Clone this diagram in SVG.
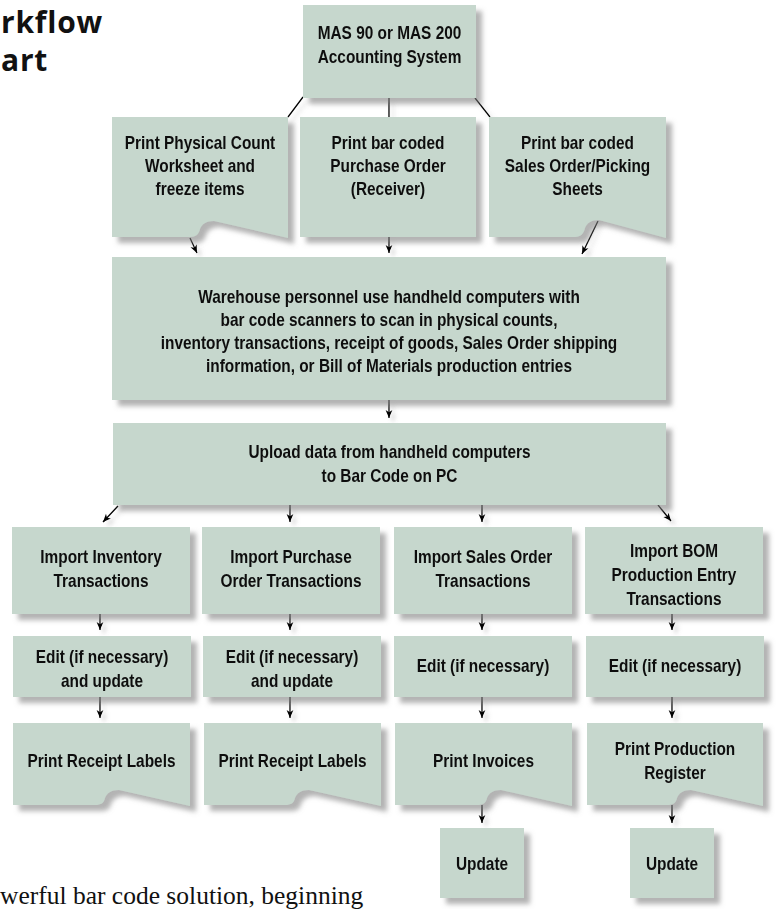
<svg xmlns="http://www.w3.org/2000/svg" width="776" height="909" viewBox="0 0 776 909">
<style>
.box{fill:#c6d7cd;}
.t{font-family:"Liberation Sans",Arial,sans-serif;font-size:17.5px;font-weight:bold;fill:#111;text-anchor:middle;}
.title{font-family:"Open Sans","Liberation Sans",sans-serif;font-size:30px;font-weight:bold;fill:#111;letter-spacing:0.8px;}
.body{font-family:"Liberation Serif","Times New Roman",serif;font-size:25.5px;fill:#111;}
.c{stroke:#000;stroke-width:1.3;fill:none;}
.a{marker-end:url(#ah);}
</style>
<defs>
<filter id="sh" x="-10%" y="-10%" width="130%" height="140%">
<feDropShadow dx="6" dy="6" stdDeviation="2.5" flood-color="#808080" flood-opacity="0.6"/>
</filter>
<filter id="shl" x="-50%" y="-50%" width="250%" height="250%">
<feDropShadow dx="4" dy="4" stdDeviation="2" flood-color="#909090" flood-opacity="0.35"/>
</filter>
<marker id="ah" markerUnits="userSpaceOnUse" markerWidth="9" markerHeight="9" refX="8" refY="4" orient="auto">
<path d="M0,0.6 L8,4 L0,7.4 L2.2,4 Z" fill="#000"/>
</marker>
</defs>
<rect width="776" height="909" fill="#fff"/>
<text class="title" x="1" y="33">rkflow</text>
<text class="title" x="1" y="71">art</text>
<text class="body" x="0" y="904">werful bar code solution, beginning</text>

<g id="connectors" filter="url(#shl)">
<line class="c" x1="303" y1="97" x2="288" y2="117"/>
<line class="c" x1="389" y1="98" x2="389" y2="117"/>
<line class="c" x1="475" y1="98" x2="490" y2="117"/>
<line class="c a" x1="190" y1="238" x2="197" y2="253"/>
<line class="c a" x1="389" y1="237" x2="389" y2="253"/>
<line class="c a" x1="598" y1="221" x2="582" y2="254"/>
<line class="c a" x1="389" y1="400" x2="389" y2="418"/>
<line class="c a" x1="118" y1="506" x2="103" y2="522"/>
<line class="c a" x1="290" y1="505" x2="290" y2="522"/>
<line class="c a" x1="482" y1="505" x2="482" y2="522"/>
<line class="c a" x1="658" y1="505" x2="671" y2="521"/>
<line class="c a" x1="100" y1="614" x2="100" y2="630"/>
<line class="c a" x1="290" y1="614" x2="290" y2="630"/>
<line class="c a" x1="482" y1="614" x2="482" y2="630"/>
<line class="c a" x1="672" y1="614" x2="672" y2="630"/>
<line class="c a" x1="100" y1="697" x2="100" y2="718"/>
<line class="c a" x1="290" y1="697" x2="290" y2="718"/>
<line class="c a" x1="482" y1="697" x2="482" y2="718"/>
<line class="c a" x1="672" y1="697" x2="672" y2="718"/>
<line class="c a" x1="482" y1="805" x2="482" y2="823"/>
<line class="c a" x1="672" y1="805" x2="672" y2="823"/>
</g>

<g id="n-mas" filter="url(#sh)">
<rect class="box" x="303" y="5" width="173" height="93"/>
<text class="t" transform="translate(389.5 39) scale(0.88 1)">MAS 90 or MAS 200</text>
<text class="t" transform="translate(389.5 63) scale(0.88 1)">Accounting System</text>
</g>

<g id="n-physical" filter="url(#sh)">
<path class="box" d="M112,117 H288 V238 L214,221 C206,221 202,224 200,229 C199,234 196,237 190,237 H112 Z"/>
<text class="t" transform="translate(200 149) scale(0.88 1)">Print Physical Count</text>
<text class="t" transform="translate(200 172) scale(0.88 1)">Worksheet and</text>
<text class="t" transform="translate(200 195) scale(0.88 1)">freeze items</text>
</g>

<g id="n-po" filter="url(#sh)">
<rect class="box" x="300" y="117" width="176" height="120"/>
<text class="t" transform="translate(388 149) scale(0.88 1)">Print bar coded</text>
<text class="t" transform="translate(388 172) scale(0.88 1)">Purchase Order</text>
<text class="t" transform="translate(388 195) scale(0.88 1)">(Receiver)</text>
</g>

<g id="n-so" filter="url(#sh)">
<path class="box" d="M489,117 H666 V238 L599,220 C591,220 587,223 585,228 C584,233 581,237 575,237 H489 Z"/>
<text class="t" transform="translate(577.5 149) scale(0.88 1)">Print bar coded</text>
<text class="t" transform="translate(577.5 172) scale(0.88 1)">Sales Order/Picking</text>
<text class="t" transform="translate(577.5 195) scale(0.88 1)">Sheets</text>
</g>

<g id="n-warehouse" filter="url(#sh)">
<rect class="box" x="112" y="257" width="554" height="143"/>
<text class="t" transform="translate(389 303) scale(0.88 1)">Warehouse personnel use handheld computers with</text>
<text class="t" transform="translate(389 326) scale(0.88 1)">bar code scanners to scan in physical counts,</text>
<text class="t" transform="translate(389 349) scale(0.88 1)">inventory transactions, receipt of goods, Sales Order shipping</text>
<text class="t" transform="translate(389 372) scale(0.88 1)">information, or Bill of Materials production entries</text>
</g>

<g id="n-upload" filter="url(#sh)">
<rect class="box" x="113" y="423" width="553" height="82"/>
<text class="t" transform="translate(389.5 458) scale(0.88 1)">Upload data from handheld computers</text>
<text class="t" transform="translate(389.5 482) scale(0.88 1)">to Bar Code on PC</text>
</g>

<g id="n-imp-inv" filter="url(#sh)">
<rect class="box" x="12" y="527" width="178" height="87"/>
<text class="t" transform="translate(101 563) scale(0.88 1)">Import Inventory</text>
<text class="t" transform="translate(101 587) scale(0.88 1)">Transactions</text>
</g>
<g id="n-imp-po" filter="url(#sh)">
<rect class="box" x="202" y="527" width="178" height="87"/>
<text class="t" transform="translate(291 563) scale(0.88 1)">Import Purchase</text>
<text class="t" transform="translate(291 587) scale(0.88 1)">Order Transactions</text>
</g>
<g id="n-imp-so" filter="url(#sh)">
<rect class="box" x="394" y="527" width="178" height="87"/>
<text class="t" transform="translate(483 563) scale(0.88 1)">Import Sales Order</text>
<text class="t" transform="translate(483 587) scale(0.88 1)">Transactions</text>
</g>
<g id="n-imp-bom" filter="url(#sh)">
<rect class="box" x="585" y="527" width="178" height="87"/>
<text class="t" transform="translate(674 557) scale(0.88 1)">Import BOM</text>
<text class="t" transform="translate(674 581) scale(0.88 1)">Production Entry</text>
<text class="t" transform="translate(674 605) scale(0.88 1)">Transactions</text>
</g>

<g id="n-edit-inv" filter="url(#sh)">
<rect class="box" x="13" y="636" width="178" height="61"/>
<text class="t" transform="translate(102 663) scale(0.88 1)">Edit (if necessary)</text>
<text class="t" transform="translate(102 687) scale(0.88 1)">and update</text>
</g>
<g id="n-edit-po" filter="url(#sh)">
<rect class="box" x="203" y="636" width="178" height="61"/>
<text class="t" transform="translate(292 663) scale(0.88 1)">Edit (if necessary)</text>
<text class="t" transform="translate(292 687) scale(0.88 1)">and update</text>
</g>
<g id="n-edit-so" filter="url(#sh)">
<rect class="box" x="394" y="636" width="178" height="61"/>
<text class="t" transform="translate(483 672) scale(0.88 1)">Edit (if necessary)</text>
</g>
<g id="n-edit-bom" filter="url(#sh)">
<rect class="box" x="586" y="636" width="178" height="61"/>
<text class="t" transform="translate(675 672) scale(0.88 1)">Edit (if necessary)</text>
</g>

<g id="n-print-inv" filter="url(#sh)">
<path class="box" d="M13,723 H190 V806 L119,790 C111,790 107,793 105,798 C104,803 101,805 95,805 H13 Z"/>
<text class="t" transform="translate(101.5 767) scale(0.88 1)">Print Receipt Labels</text>
</g>
<g id="n-print-po" filter="url(#sh)">
<path class="box" d="M204,723 H381 V806 L309,790 C301,790 297,793 295,798 C294,803 291,805 285,805 H204 Z"/>
<text class="t" transform="translate(292.5 767) scale(0.88 1)">Print Receipt Labels</text>
</g>
<g id="n-print-so" filter="url(#sh)">
<path class="box" d="M395,723 H572 V806 L501,790 C493,790 489,793 487,798 C486,803 483,805 477,805 H395 Z"/>
<text class="t" transform="translate(483.5 767) scale(0.88 1)">Print Invoices</text>
</g>
<g id="n-print-bom" filter="url(#sh)">
<path class="box" d="M587,723 H763 V806 L691,790 C683,790 679,793 677,798 C676,803 673,805 667,805 H587 Z"/>
<text class="t" transform="translate(675 755) scale(0.88 1)">Print Production</text>
<text class="t" transform="translate(675 779) scale(0.88 1)">Register</text>
</g>

<g id="n-upd-so" filter="url(#sh)">
<rect class="box" x="440" y="828" width="84" height="70"/>
<text class="t" transform="translate(482 870) scale(0.88 1)">Update</text>
</g>
<g id="n-upd-bom" filter="url(#sh)">
<rect class="box" x="630" y="828" width="84" height="70"/>
<text class="t" transform="translate(672 870) scale(0.88 1)">Update</text>
</g>
</svg>
